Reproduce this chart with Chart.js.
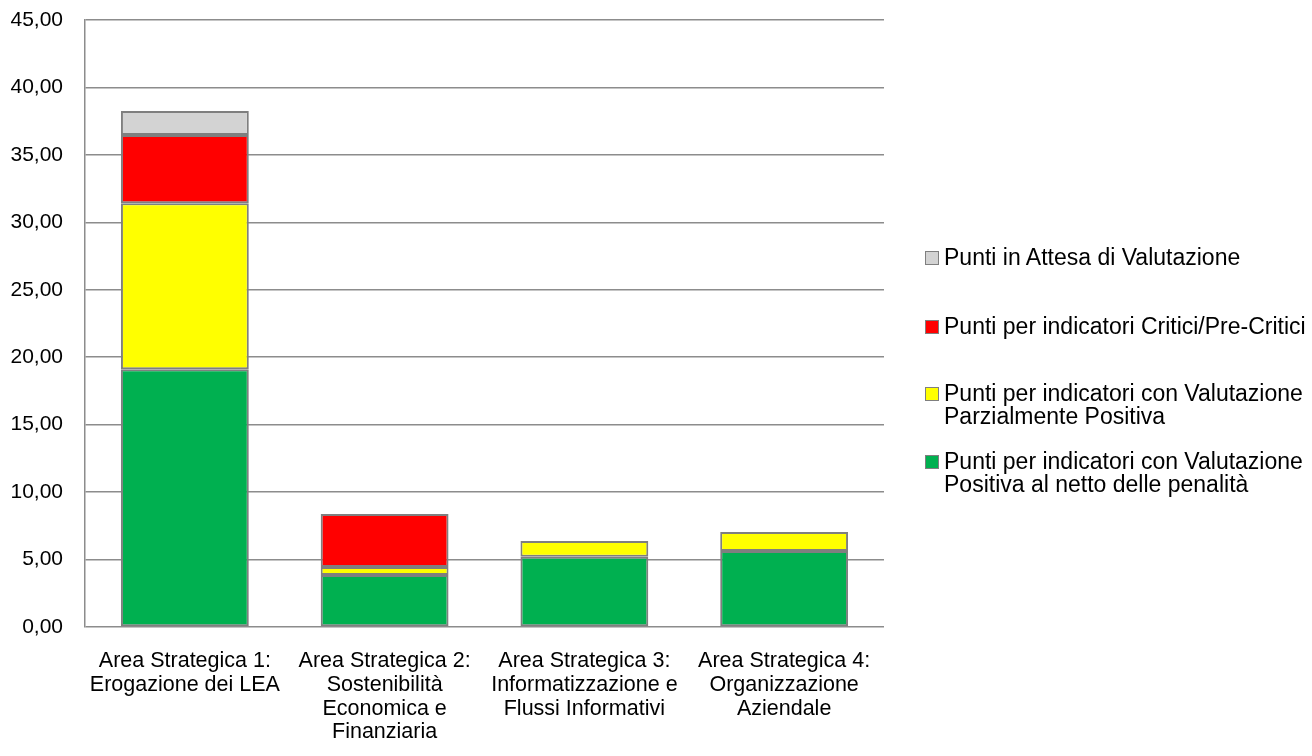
<!DOCTYPE html>
<html lang="it">
<head>
<meta charset="utf-8">
<title>Punti per Area Strategica</title>
<script src="https://cdn.jsdelivr.net/npm/chart.js@4.4.1/dist/chart.umd.min.js"></script>
<style>
  html, body { margin: 0; padding: 0; background: #ffffff; }
  #wrap { position: relative; width: 1312px; height: 756px; }
  #chart { position: absolute; left: 0; top: 0; }
  #legend { position: absolute; left: 925px; top: 246px; font-family: "Liberation Sans", Arial, sans-serif; font-size: 23px; color: #000; }
  .item { position: relative; padding-left: 19px; line-height: 23px; white-space: nowrap; }
  .box { position: absolute; left: 0; top: 5px; width: 12px; height: 12px; border: 1px solid #7f7f7f; }
</style>
</head>
<body>
<div id="wrap">
  <canvas id="chart" width="1312" height="756"></canvas>
  <div id="legend"></div>
</div>
<script>
// Categories (multi-line axis labels)
const categories = [
  ["Area Strategica 1:", "Erogazione dei LEA"],
  ["Area Strategica 2:", "Sostenibilità", "Economica e", "Finanziaria"],
  ["Area Strategica 3:", "Informatizzazione e", "Flussi Informativi"],
  ["Area Strategica 4:", "Organizzazione", "Aziendale"]
];

// Stacked series, bottom to top
const positivi = [19.10, 3.85, 5.20, 5.63];
const parziali = [12.32, 0.60, 1.18, 1.41];
const critici = [5.05, 3.93, 0, 0];
const inAttesa = [1.78, 0, 0, 0];

const seriesNames = {
  positivi: ["Punti per indicatori con Valutazione", "Positiva al netto delle penalità"],
  parziali: ["Punti per indicatori con Valutazione", "Parzialmente Positiva"],
  critici: ["Punti per indicatori Critici/Pre-Critici"],
  inAttesa: ["Punti in Attesa di Valutazione"]
};

const yTicks = [0, 5, 10, 15, 20, 25, 30, 35, 40, 45];

const FONT = "'Liberation Sans', Arial, sans-serif";
const border = "#7f7f7f";

function ds(label, data, color) {
  return {
    label: label, data: data, backgroundColor: color,
    borderColor: border,
    borderWidth: data.map(v => v > 0 ? 2 : 0), // zero-height segments draw nothing
    borderSkipped: false,
    barPercentage: 0.8, categoryPercentage: 0.8
  };
}

const datasets = [
  ds(seriesNames.positivi, positivi, "#00b050"),
  ds(seriesNames.parziali, parziali, "#ffff00"),
  ds(seriesNames.critici, critici, "#ff0000"),
  ds(seriesNames.inAttesa, inAttesa, "#d3d3d3")
];

new Chart(document.getElementById("chart"), {
  type: "bar",
  data: { labels: categories, datasets: datasets },
  options: {
    responsive: false,
    animation: false,
    layout: { padding: { top: 20, right: 428, left: 0, bottom: 0 } },
    plugins: { legend: { display: false }, tooltip: { enabled: false } },
    scales: {
      x: {
        stacked: true,
        grid: { display: false },
        border: { display: false },
        ticks: { color: "#000", font: { family: FONT, size: 21.5, lineHeight: 1.11 }, maxRotation: 0, autoSkip: false, padding: 14 },
        afterFit: s => { s.height = 129; }
      },
      y: {
        stacked: true,
        min: 0, max: 45,
        afterBuildTicks: s => { s.ticks = yTicks.map(v => ({ value: v })); },
        grid: { color: "#8c8c8c", lineWidth: 1.5, drawTicks: false },
        border: { display: true, color: "#8c8c8c", width: 1.5 },
        ticks: {
          color: "#000", font: { family: FONT, size: 21 }, padding: 22,
          callback: v => v.toFixed(2).replace(".", ",")
        },
        // fixed axis width; top label sits inside the layout padding
        afterFit: s => { s.width = 85; s.paddingTop = 0; s.paddingBottom = 0; }
      }
    }
  }
});

// Legend, top entry = top of the stack
const legend = document.getElementById("legend");
const spacing = [0, 46, 44, 22];
datasets.slice().reverse().forEach((d, i) => {
  const item = document.createElement("div");
  item.className = "item";
  item.style.marginTop = spacing[i] + "px";
  const box = document.createElement("span");
  box.className = "box";
  box.style.background = d.backgroundColor;
  item.appendChild(box);
  d.label.forEach((line, j) => {
    if (j) item.appendChild(document.createElement("br"));
    item.appendChild(document.createTextNode(line));
  });
  legend.appendChild(item);
});
</script>
</body>
</html>
